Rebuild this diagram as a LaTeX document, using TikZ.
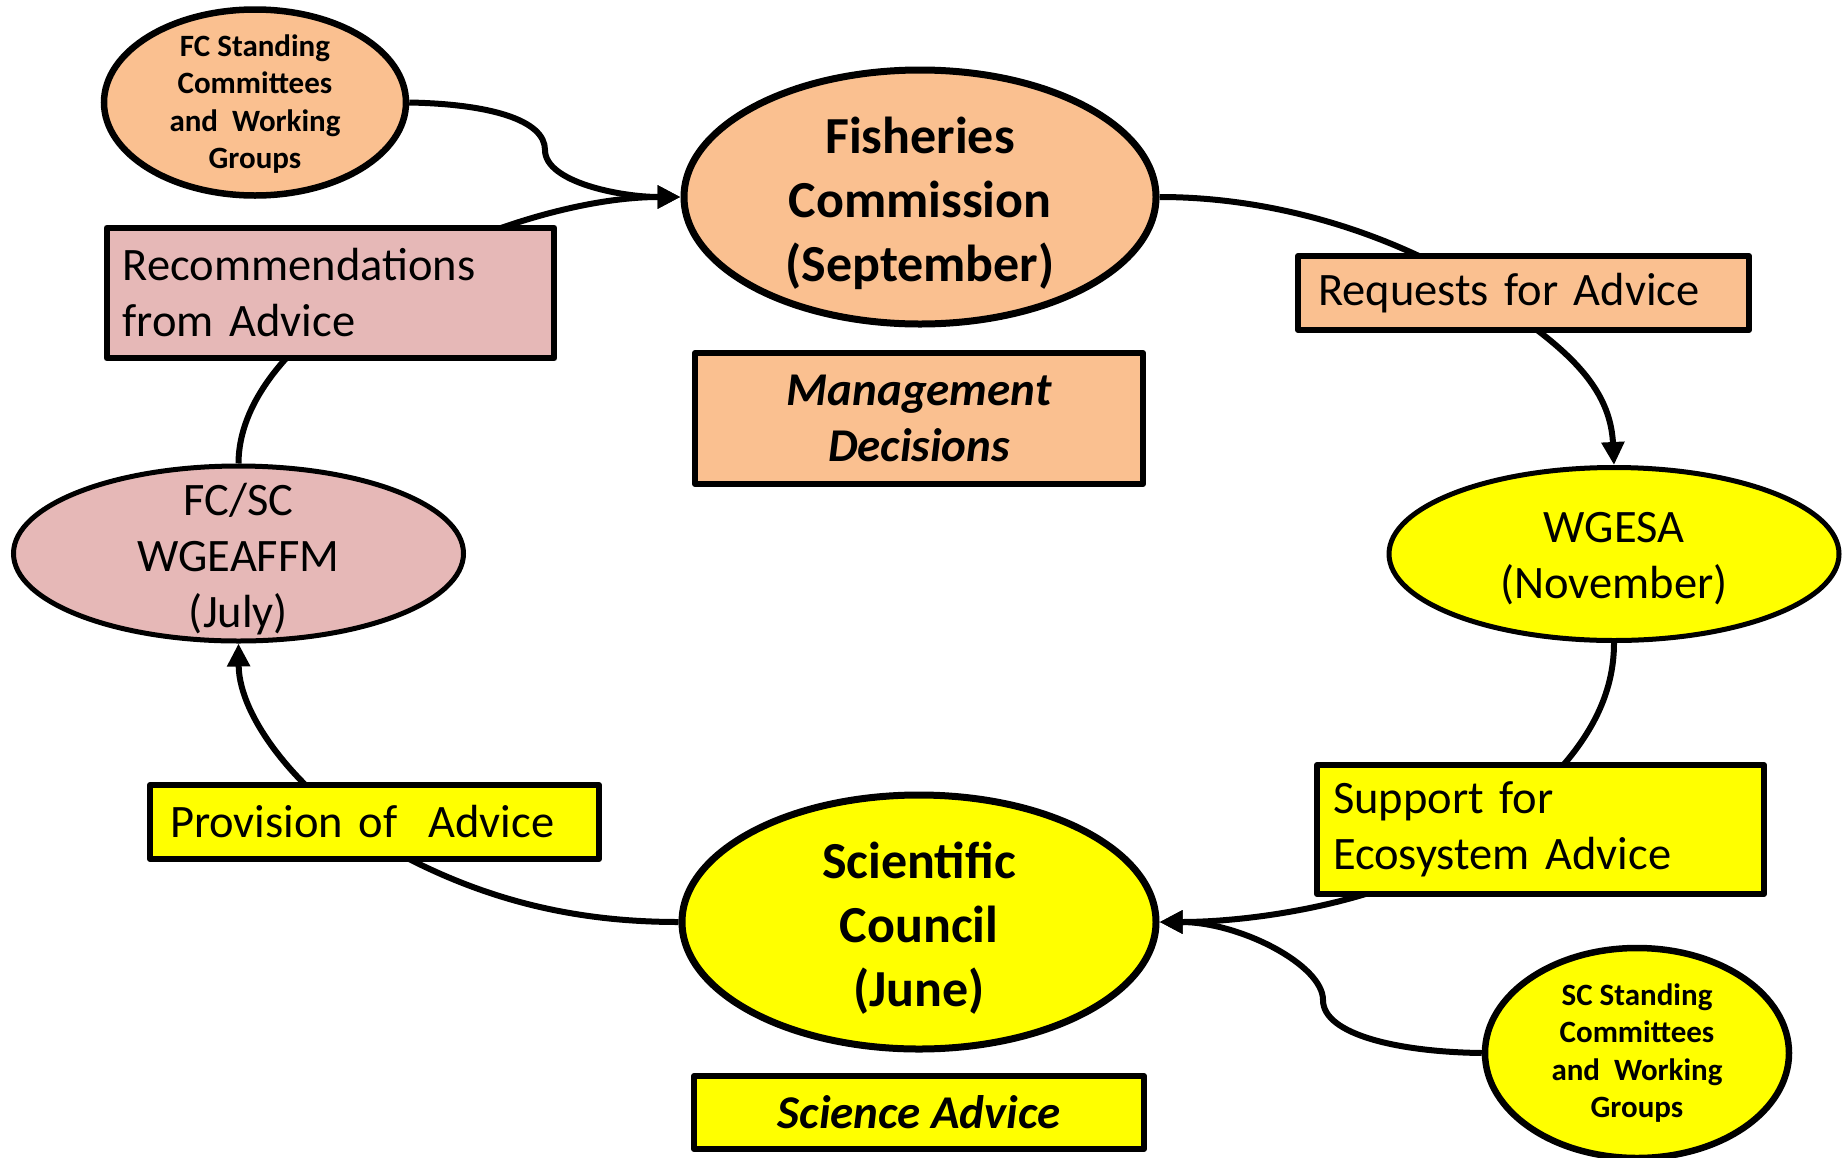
\documentclass[tikz,border=0pt]{standalone}
\usepackage{fontspec}
\setmainfont{Carlito}
\usetikzlibrary{shapes.geometric,arrows.meta}
\definecolor{orng}{RGB}{250,192,144}
\definecolor{pnk}{RGB}{230,184,183}
\definecolor{ylw}{RGB}{255,255,0}
\pgfdeclarelayer{bg}
\pgfsetlayers{bg,main}
\begin{document}
\begin{tikzpicture}[x=1pt,y=-1pt,
  bigell/.style={ellipse, draw=black, line width=7pt, inner sep=0pt},
  midell/.style={ellipse, draw=black, line width=5pt, inner sep=0pt},
  smell/.style={ellipse, draw=black, line width=6.5pt, inner sep=0pt},
  boxn/.style={rectangle, draw=black, line width=6pt, inner ysep=0pt, line join=round},
  bigtxt/.style={font=\bfseries\fontsize{52}{64}\selectfont, align=center, inner sep=0pt},
  midtxt/.style={font=\fontsize{46.5}{56}\selectfont, align=center, inner sep=0pt},
  smtxt/.style={font=\bfseries\fontsize{31}{37.5}\selectfont, align=center, inner sep=0pt},
  regtxt/.style={font=\fontsize{46.5}{56}\selectfont, align=left},
  bitxt/.style={font=\bfseries\itshape\fontsize{47}{56}\selectfont, align=center},
  link/.style={line width=6pt},
  arr/.style={-{Triangle[length=23pt,width=22pt]}}
]
\useasboundingbox (0,0) rectangle (1845,1157);

% ellipses
\node[bigell, fill=orng, minimum width=472pt, minimum height=254pt] (fc) at (920,197) {};
\node[bigtxt] (fct) at (920,203) {Fisheries\\Commission\\(September)};

\node[bigell, fill=ylw, minimum width=474pt, minimum height=254pt] (sc) at (919,922) {};
\node[bigtxt] (sct) at (919,928) {Scientific\\Council\\(June)};

\node[midell, fill=ylw, minimum width=450pt, minimum height=173pt] (wgesa) at (1614,554) {};
\node[midtxt] (wgesat) at (1614,559) {WGESA\\(November)};

\node[midell, fill=pnk, minimum width=450pt, minimum height=175pt] (fcsc) at (238.5,553.5) {};
\node[midtxt] (fcsct) at (238.5,559) {FC/SC\\WGEAFFM\\(July)};

\node[smell, fill=orng, minimum width=302pt, minimum height=186pt] (fcs) at (255,102.5) {};
\node[smtxt] (fcst) at (255,104) {FC Standing\\Committees\\and\ \ Working\\Groups};

\node[smell, fill=ylw, minimum width=304pt, minimum height=210pt] (scs) at (1637,1053) {};
\node[smtxt] (scst) at (1637,1053) {SC Standing\\Committees\\and\ \ Working\\Groups};

% boxes
\node[boxn, fill=orng, minimum width=448pt, minimum height=131pt, bitxt] (mgmt) at (919,418.5) {Management\\Decisions};
\node[boxn, fill=ylw, minimum width=450pt, minimum height=73pt, bitxt] (sciadv) at (919,1112.5) {Science Advice};

\node[boxn, fill=orng, inner xsep=20pt, text width=411pt, minimum height=74pt, regtxt] (req) at (1523.5,293) {Requests for Advice};
\node[boxn, fill=ylw, inner xsep=16pt, text width=415pt, minimum height=129pt, regtxt] (sup) at (1540.5,829.5) {Support for\\Ecosystem Advice};
\node[boxn, fill=pnk, inner xsep=16pt, text width=415.5pt, minimum height=130.5pt, regtxt] (rec) at (330.5,293) {Recommendations\\from Advice};
\node[boxn, fill=ylw, inner xsep=20pt, text width=409pt, minimum height=74pt, regtxt] (prov) at (374.5,822) {Provision of\ \ Advice};

% connectors
\begin{pgfonlayer}{bg}
\draw[link,arr] (fcs.east) .. controls (490,104) and (545,120) .. (545,150)
  .. controls (545,182) and (620,197) .. (fc.west);
\draw[link,arr] (fcsc.north) .. controls (239,320) and (510,197) .. (fc.west);
\draw[link,arr] (fc.east) .. controls (1300,197) and (1420,250) .. (1480,290)
  .. controls (1555,340) and (1610,380) .. (wgesa.north);
\draw[link,arr] (wgesa.south) .. controls (1614,720) and (1560,780) .. (1480,840)
  .. controls (1400,900) and (1260,922) .. (sc.east);
\draw[link,arr] (scs.west) .. controls (1400,1052) and (1323,1035) .. (1323,1000)
  .. controls (1323,965) and (1240,922) .. (sc.east);
\draw[link,arr] (sc.west) .. controls (570,922) and (480,898) .. (392,850)
  .. controls (305,802) and (239,720) .. (fcsc.south);
\end{pgfonlayer}
\end{tikzpicture}
\end{document}
